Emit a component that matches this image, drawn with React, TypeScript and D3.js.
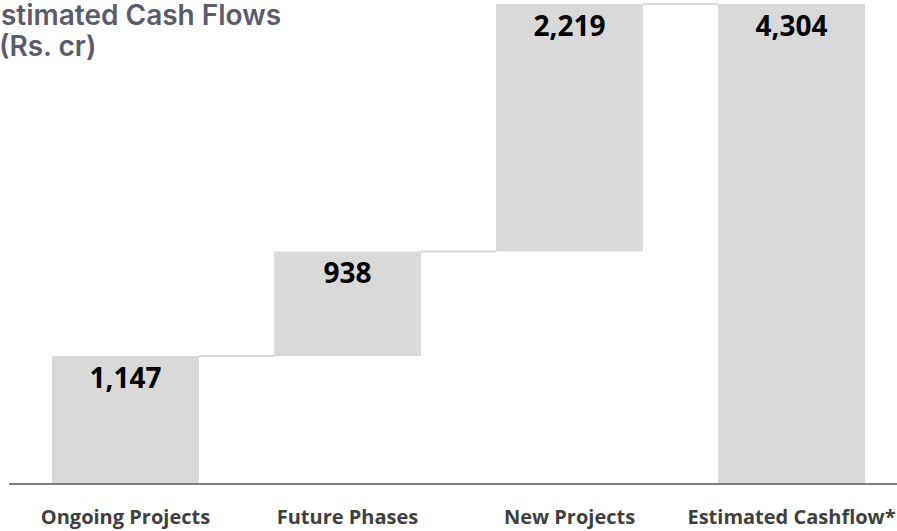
import React from "react";
import * as d3 from "d3";

const categories = ["Ongoing Projects", "Future Phases", "New Projects", "Estimated Cashflow*"];
const values = [1147, 938, 2219, 4304];
const isTotal = [false, false, false, true];
const valueLabels = ["1,147", "938", "2,219", "4,304"];
const titleLines = ["Estimated Cash Flows", "(Rs. cr)"];

const W = 897;
const H = 531;

export default function App() {
  let running = 0;
  const bars = categories.map((c, i) => {
    let start: number, end: number;
    if (isTotal[i]) {
      start = 0;
      end = values[i];
      running = values[i];
    } else {
      start = running;
      end = running + values[i];
      running = end;
    }
    return { c, start, end, label: valueLabels[i] };
  });

  const x = d3
    .scaleBand<string>()
    .domain(categories)
    .range([0, 917])
    .paddingInner(0.338)
    .paddingOuter(0.234);
  const y = d3.scaleLinear().domain([0, d3.max(values) as number]).range([484, 4]);

  const bw = x.bandwidth();

  return (
    <div style={{ position: "fixed", left: 0, top: 0, width: W, height: H, background: "#fff" }}>
      <svg width={W} height={H} style={{ display: "block" }}>
        <rect width={W} height={H} fill="#fff" />
        {bars.slice(0, -1).map((b, i) => {
          const nx = x(categories[i + 1]) as number;
          const yy = y(b.end);
          return (
            <line
              key={"c" + i}
              x1={(x(b.c) as number) + bw}
              x2={nx}
              y1={yy}
              y2={yy}
              stroke="#d9d9d9"
              strokeWidth={2}
            />
          );
        })}
        {bars.map((b) => (
          <rect
            key={b.c}
            x={x(b.c)}
            y={y(Math.max(b.start, b.end))}
            width={bw}
            height={Math.abs(y(b.start) - y(b.end))}
            fill="#d9d9d9"
          />
        ))}
        {bars.map((b) => (
          <text
            key={"v" + b.c}
            x={(x(b.c) as number) + bw / 2}
            y={y(b.end) + 32}
            textAnchor="middle"
            fontFamily="'Open Sans', sans-serif"
            fontWeight={700}
            fontSize={28}
            fill="#000"
          >
            {b.label}
          </text>
        ))}
        <line x1={9} x2={W} y1={484} y2={484} stroke="#7f7f7f" strokeWidth={2} />
        {categories.map((c) => (
          <text
            key={"l" + c}
            x={(x(c) as number) + bw / 2}
            y={524}
            textAnchor="middle"
            fontFamily="'Open Sans', sans-serif"
            fontWeight={700}
            fontSize={20}
            fill="#3f3f3f"
          >
            {c}
          </text>
        ))}
        <text
          x={-16}
          y={25}
          fontFamily="Inter, 'Noto Sans', sans-serif"
          fontWeight={600}
          fontSize={28}
          fill="#5b5b6d"
        >
          {titleLines[0]}
        </text>
        <text
          x={-1}
          y={56}
          fontFamily="Inter, 'Noto Sans', sans-serif"
          fontWeight={600}
          fontSize={28}
          fill="#5b5b6d"
        >
          {titleLines[1]}
        </text>
      </svg>
    </div>
  );
}
